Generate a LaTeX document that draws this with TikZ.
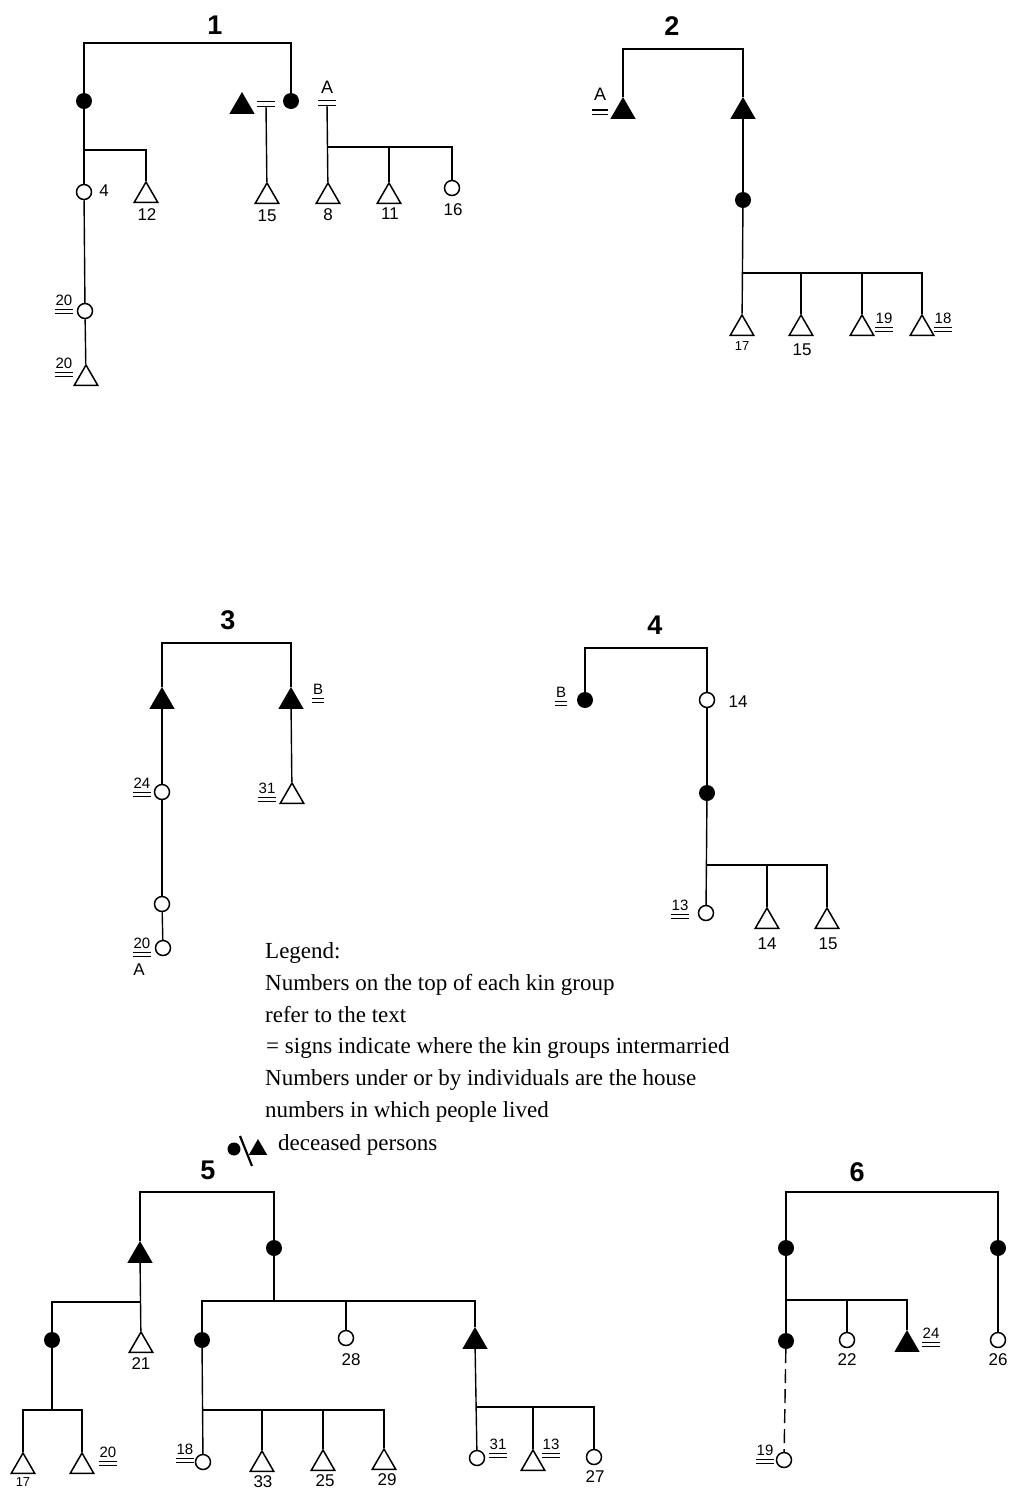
\documentclass[tikz,border=0pt]{standalone}
\usepackage{fontspec}
\setmainfont{Liberation Serif}
\newfontfamily\labfont{Liberation Sans}
\usetikzlibrary{shapes.geometric}
\tikzset{
  conn/.style={line width=1.4pt},
  fc/.style={circle,fill=black,minimum size=16pt,inner sep=0pt},
  oc/.style={circle,draw=black,line width=1.5pt,fill=white,minimum size=15pt,inner sep=0pt},
  ft/.style={regular polygon,regular polygon sides=3,fill=black,minimum size=29pt,inner sep=0pt,yshift=-3.5pt},
  ot/.style={regular polygon,regular polygon sides=3,draw=black,line width=1.5pt,minimum size=27pt,inner sep=0pt,yshift=-3.5pt},
  lab/.style={font=\labfont\fontsize{17}{19}\selectfont,inner sep=0.5pt},
  slab/.style={font=\labfont\fontsize{15}{17}\selectfont,inner sep=0.5pt},
  ttl/.style={font=\labfont\bfseries\fontsize{27}{30}\selectfont,inner sep=0pt},
  leg/.style={font=\fontsize{23}{26}\selectfont,anchor=base west,inner sep=0pt},
  eqbox/.style={inner sep=0pt,minimum width=17pt,minimum height=5pt},
  eql/.style={line width=1.2pt},
}
\newcommand\eqlab[4]{%
  \node[slab,anchor=base] (#1) at (#2,#3) {#4};
  \draw[eql] ([yshift=-4.5pt]#1.base west) -- ([yshift=-4.5pt]#1.base east)
             ([yshift=-8.5pt]#1.base west) -- ([yshift=-8.5pt]#1.base east);}
\newcommand\eqmark[3]{%
  \node[eqbox] (#1) at (#2,#3) {};
  \draw[eql] (#1.north west) -- (#1.north east) (#1.south west) -- (#1.south east);}
\begin{document}
\begin{tikzpicture}[x=1pt,y=-1pt]
\fill[white] (0,0) rectangle (1019,1489);
\useasboundingbox (0,0) rectangle (1019,1489);

% ---------------- Group 1 ----------------
\node[ttl] (t1) at (215,25) {1};
\node[fc] (g1a) at (84,101) {};
\node[fc] (g1b) at (291,101) {};
\node[ft] (g1c) at (242,103) {};
\eqmark{g1e}{266}{104}
\eqmark{g1A}{327}{103}
\node[slab,font=\labfont\fontsize{18}{20}\selectfont] (g1Al) at (327,87) {A};
\node[oc] (g1d) at (84,192) {};
\node[lab] (l1d) at (104,191) {4};
\node[ot] (g1f) at (146,192) {};
\node[lab] (l1f) at (147,215) {12};
\node[oc] (g1g) at (85,311) {};
\eqlab{l1g}{64}{305}{20}
\node[ot] (g1h) at (86,375) {};
\eqlab{l1h}{64}{368}{20}
\node[ot] (g1i) at (267,193) {};
\node[lab] (l1i) at (267,216) {15};
\node[ot] (g1j) at (328,193) {};
\node[lab] (l1j) at (328,215) {8};
\node[ot] (g1k) at (389,193) {};
\node[lab] (l1k) at (390,214) {11};
\node[oc] (g1l) at (452,188) {};
\node[lab] (l1l) at (453,210) {16};
\coordinate (g1top) at (187,43);
\coordinate (g1s) at (84,150);
\coordinate (g1s2) at (328,147);
\draw[conn] (g1a) |- (g1top) -| (g1b);
\draw[conn] (g1a) -- (g1d);
\draw[conn] (g1s) -| (g1f);
\draw[conn] (g1d) -- (g1g);
\draw[conn] (g1g) -- (g1h);
\draw[conn] (g1e) -- (g1i);
\draw[conn] (g1A) -- (g1j);
\draw[conn] (g1s2) -| (g1k);
\draw[conn] (g1s2) -| (g1l);

% ---------------- Group 2 ----------------
\node[ttl] (t2) at (672,26) {2};
\node[ft] (g2a) at (623,108) {};
\node[slab,font=\labfont\fontsize{18}{20}\selectfont,anchor=base] (l2a) at (600,100) {A};
\draw[eql] (592,110) -- (608,110) (592,114.5) -- (608,114.5);
\node[ft] (g2b) at (743,108) {};
\node[fc] (g2c) at (743,200) {};
\coordinate (g2top) at (683,49);
\coordinate (g2s) at (743,273);
\node[ot] (g2d) at (742,325) {};
\node[slab,font=\labfont\fontsize{13}{15}\selectfont] (l2d) at (742,346) {17};
\node[ot] (g2e) at (801,325) {};
\node[lab] (l2e) at (802,350) {15};
\node[ot] (g2f) at (862,325) {};
\eqlab{l2f}{884}{323}{19}
\node[ot] (g2g) at (922,325) {};
\eqlab{l2g}{943}{323}{18}
\draw[conn] (g2a) |- (g2top) -| (g2b);
\draw[conn] (g2b) -- (g2c);
\draw[conn] (g2c) -- (g2d);
\draw[conn] (g2s) -| (g2e);
\draw[conn] (g2s) -| (g2f);
\draw[conn] (g2s) -| (g2g);

% ---------------- Group 3 ----------------
\node[ttl] (t3) at (228,620) {3};
\node[ft] (g3a) at (162,698) {};
\node[ft] (g3b) at (291,698) {};
\eqlab{l3b}{318}{694}{B}
\node[oc] (g3c) at (162,792) {};
\eqlab{l3c}{142}{788}{24}
\node[oc] (g3d) at (162,904) {};
\node[oc] (g3e) at (163,948) {};
\eqlab{l3e}{142}{948}{20}
\node[slab,font=\labfont\fontsize{17}{19}\selectfont] (l3eA) at (139,970) {A};
\node[ot] (g3f) at (292,793) {};
\eqlab{l3f}{267}{793}{31}
\coordinate (g3top) at (226,643);
\draw[conn] (g3a) |- (g3top) -| (g3b);
\draw[conn] (g3a) -- (g3c);
\draw[conn] (g3c) -- (g3d);
\draw[conn] (g3d) -- (g3e);
\draw[conn] (g3b) -- (g3f);

% ---------------- Group 4 ----------------
\node[ttl] (t4) at (655,625) {4};
\node[fc] (g4a) at (585,700) {};
\eqlab{l4a}{561}{697}{B}
\node[oc] (g4b) at (707,700) {};
\node[lab] (l4b) at (738,702) {14};
\node[fc] (g4c) at (707,793) {};
\node[oc] (g4d) at (706,913) {};
\eqlab{l4d}{680}{910}{13}
\node[ot] (g4e) at (767,918) {};
\node[lab] (l4e) at (767,944) {14};
\node[ot] (g4f) at (827,918) {};
\node[lab] (l4f) at (828,944) {15};
\coordinate (g4top) at (646,648);
\coordinate (g4s) at (707,865);
\draw[conn] (g4a) |- (g4top) -| (g4b);
\draw[conn] (g4b) -- (g4c);
\draw[conn] (g4c) -- (g4d);
\draw[conn] (g4s) -| (g4e);
\draw[conn] (g4s) -| (g4f);

% ---------------- Legend ----------------
\node[leg] (lg1) at (265,958) {Legend:};
\node[leg] (lg2) at (265,990) {Numbers on the top of each kin group};
\node[leg] (lg3) at (265,1022) {refer to the text};
\node[leg] (lg4) at (266,1053) {= signs indicate where the kin groups intermarried};
\node[leg] (lg5) at (265,1085) {Numbers under or by individuals are the house};
\node[leg] (lg6) at (265,1117) {numbers in which people lived};
\node[leg] (lg7) at (278,1150) {deceased persons};
\node[fc,minimum size=13pt] (lgc) at (234,1149) {};
\node[ft,minimum size=21pt] (lgt) at (258,1146) {};
\draw[line width=2.2pt] (240,1136) -- (252,1166);

% ---------------- Group 5 ----------------
\node[ttl] (t5) at (208,1170) {5};
\node[ft] (g5a) at (140,1252) {};
\node[fc] (g5b) at (274,1248) {};
\coordinate (g5top) at (207,1192);
\coordinate (g5s1) at (140,1302);
\node[fc] (g5c) at (52,1340) {};
\node[ot] (g5d) at (141,1342) {};
\node[lab] (l5d) at (141,1364) {21};
\coordinate (g5s2) at (52,1410);
\node[ot] (g5e) at (23,1463) {};
\node[slab,font=\labfont\fontsize{13}{15}\selectfont] (l5e) at (23,1482) {17};
\node[ot] (g5f) at (82,1463) {};
\eqlab{l5f}{108}{1457}{20}
\coordinate (g5s3) at (274,1301);
\node[fc] (g5g) at (202,1340) {};
\node[oc] (g5h) at (346,1338) {};
\node[lab] (l5h) at (351,1360) {28};
\node[ft] (g5i) at (475,1338) {};
\coordinate (g5s4) at (202,1410);
\node[oc] (g5j) at (203,1462) {};
\eqlab{l5j}{185}{1454}{18}
\node[ot] (g5k) at (262,1461) {};
\node[lab] (l5k) at (263,1482) {33};
\node[ot] (g5l) at (323,1460) {};
\node[lab] (l5l) at (325,1481) {25};
\node[ot] (g5m) at (384,1459) {};
\node[lab] (l5m) at (387,1480) {29};
\coordinate (g5s5) at (476,1407);
\node[oc] (g5n) at (477,1458) {};
\eqlab{l5n}{498}{1449}{31}
\node[ot] (g5o) at (533,1460) {};
\eqlab{l5o}{551}{1449}{13}
\node[oc] (g5p) at (594,1457) {};
\node[lab] (l5p) at (595,1477) {27};
\draw[conn] (g5a) |- (g5top) -| (g5b);
\draw[conn] (g5a) -- (g5d);
\draw[conn] (g5s1) -| (g5c);
\draw[conn] (g5c) -- (g5s2);
\draw[conn] (g5s2) -| (g5e);
\draw[conn] (g5s2) -| (g5f);
\draw[conn] (g5b) -- (g5s3);
\draw[conn] (g5s3) -| (g5g);
\draw[conn] (g5s3) -| (g5h);
\draw[conn] (g5s3) -| (g5i);
\draw[conn] (g5g) -- (g5j);
\draw[conn] (g5s4) -| (g5k);
\draw[conn] (g5s4) -| (g5l);
\draw[conn] (g5s4) -| (g5m);
\draw[conn] (g5i) -- (g5n);
\draw[conn] (g5s5) -| (g5o);
\draw[conn] (g5s5) -| (g5p);

% ---------------- Group 6 ----------------
\node[ttl] (t6) at (857,1172) {6};
\node[fc] (g6a) at (786,1248) {};
\node[fc] (g6b) at (998,1248) {};
\coordinate (g6top) at (892,1192);
\coordinate (g6s) at (786,1300);
\node[fc] (g6c) at (786,1341) {};
\node[oc] (g6d) at (847,1340) {};
\node[lab] (l6d) at (847,1360) {22};
\node[ft] (g6e) at (907,1341) {};
\eqlab{l6e}{931}{1338}{24}
\node[oc] (g6f) at (998,1340) {};
\node[lab] (l6f) at (998,1360) {26};
\node[oc] (g6g) at (784,1460) {};
\eqlab{l6g}{765}{1455}{19}
\draw[conn] (g6a) |- (g6top) -| (g6b);
\draw[conn] (g6a) -- (g6c);
\draw[conn] (g6s) -| (g6d);
\draw[conn] (g6s) -| (g6e);
\draw[conn] (g6b) -- (g6f);
\draw[conn,dash pattern=on 14pt off 6pt] (g6c) -- (g6g);
\end{tikzpicture}
\end{document}
